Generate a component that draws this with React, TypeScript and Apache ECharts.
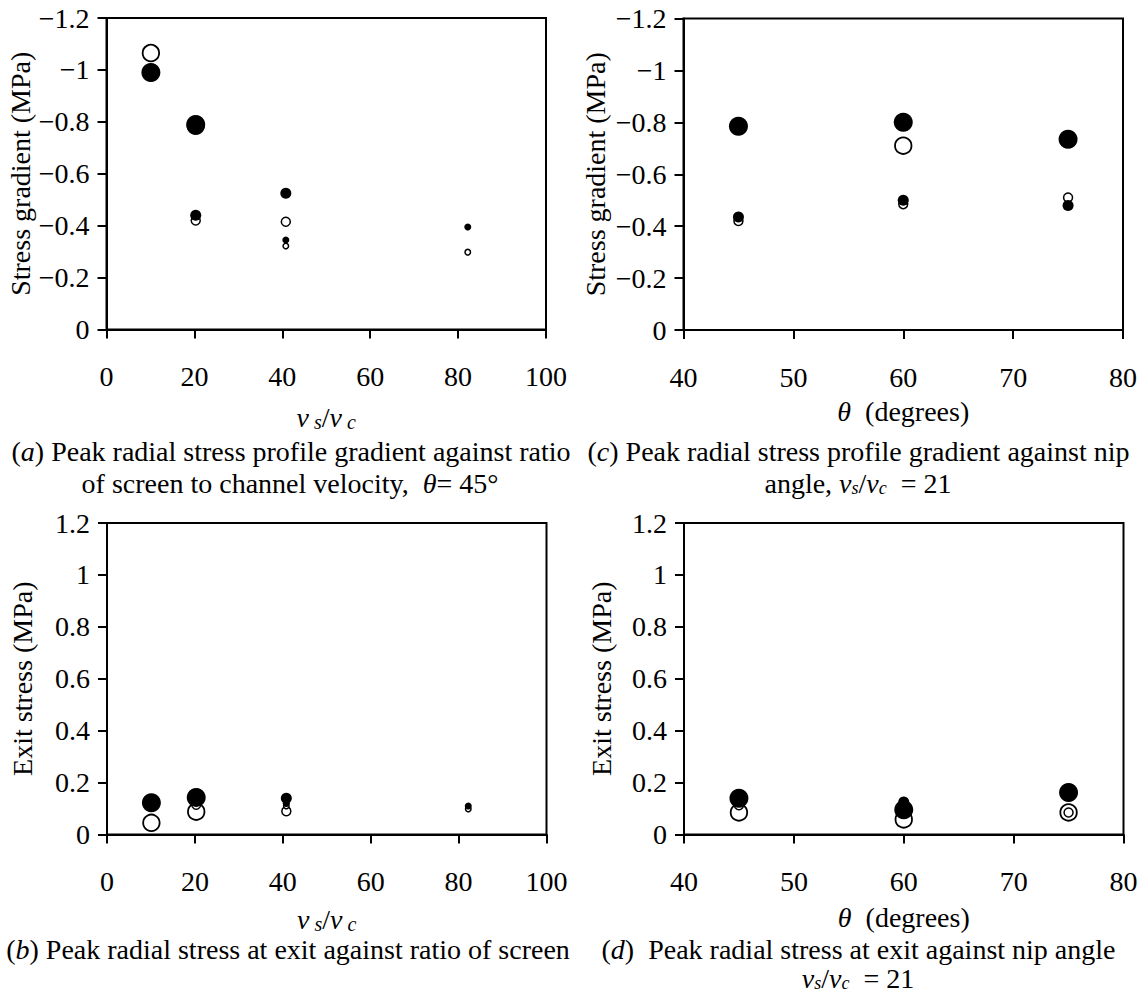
import React, { useEffect, useRef } from 'react';
import * as echarts from 'echarts';

const FONT = '"Liberation Serif", "Times New Roman", Times, serif';

// ---- axis ticks ----
const ratioTicks = { min: 0, max: 100, interval: 20 };
const angleTicks = { min: 40, max: 80, interval: 10 };
const gradTicks = { min: -1.2, max: 0, interval: 0.2 };
const exitTicks = { min: 0, max: 1.2, interval: 0.2 };

// ---- (a) stress gradient vs vs/vc, theta = 45 ----
const aLargeOpen = [[10.1, -1.065], [20.3, -0.785]];
const aMedOpen = [[20.3, -0.42], [40.8, -0.415]];
const aSmallOpen = [[40.8, -0.322], [82.2, -0.298]];
const aLargeFilled = [[10.1, -0.99], [20.3, -0.79]];
const aMedFilled = [[20.3, -0.44], [40.8, -0.525]];
const aSmallFilled = [[40.8, -0.345], [82.2, -0.395]];

// ---- (b) exit stress vs vs/vc ----
const bLargeOpen = [[10.1, 0.045], [20.3, 0.088]];
const bMedOpen = [[20.3, 0.115], [40.8, 0.09]];
const bSmallOpen = [[40.8, 0.11], [82.2, 0.098]];
const bLargeFilled = [[10.1, 0.122], [20.3, 0.143]];
const bMedFilled = [[20.3, 0.13], [40.8, 0.14]];
const bSmallFilled = [[40.8, 0.12], [82.2, 0.11]];

// ---- (c) stress gradient vs nip angle, vs/vc = 21 ----
const cLargeOpen = [[60, -0.71]];
const cMedOpen = [[45, -0.42], [60, -0.485], [75, -0.51]];
const cLargeFilled = [[45, -0.785], [60, -0.8], [75, -0.735]];
const cMedFilled = [[45, -0.435], [60, -0.5], [75, -0.48]];

// ---- (d) exit stress vs nip angle ----
const dLargeOpen = [[45, 0.085], [60, 0.058], [75, 0.085]];
const dMedOpen = [[45, 0.113], [75, 0.085]];
const dLargeFilled = [[45, 0.14], [60, 0.095], [75, 0.162]];
const dMedFilled = [[60, 0.125]];

// ---- texts ----
const yNameGrad = 'Stress gradient (MPa)';
const yNameExit = 'Exit stress (MPa)';
const xNameRatio = '{v|v}{sub| s}{sl|/}{v|v}{sub| c}';
const xNameAngle = '{t|θ}{r|  (degrees)}';
const capA1 = '({i|a}) Peak radial stress profile gradient against ratio';
const capA2 = 'of screen to channel velocity,  {i|θ}= 45°';
const capC1 = '({i|c}) Peak radial stress profile gradient against nip';
const capC2 = 'angle, {i|v}{isub|s}/{i|v}{isub|c}  = 21';
const capB1 = '({i|b}) Peak radial stress at exit against ratio of screen';
const capD1 = '({i|d})  Peak radial stress at exit against nip angle';
const capD2 = '{i|v}{isub|s}/{i|v}{isub|c}  = 21';

const FS = 28;

const nameRich = {
  v: { fontFamily: FONT, fontStyle: 'italic', fontSize: FS, lineHeight: 28, color: '#000' },
  sub: { fontFamily: FONT, fontStyle: 'italic', fontSize: 20, lineHeight: 16, verticalAlign: 'bottom', color: '#000' },
  sl: { fontFamily: FONT, fontSize: FS, lineHeight: 28, color: '#000' },
  t: { fontFamily: FONT, fontStyle: 'italic', fontSize: FS, lineHeight: 28, color: '#000' },
  r: { fontFamily: FONT, fontSize: FS, lineHeight: 28, color: '#000' },
};

const capRich = {
  i: { fontFamily: FONT, fontStyle: 'italic', fontSize: FS, fill: '#000' },
  isub: { fontFamily: FONT, fontStyle: 'italic', fontSize: 18, fill: '#000', lineHeight: 16, verticalAlign: 'bottom' },
};

const minusFmt = (v: number) => String(+v.toFixed(1)).replace('-', '\u2212');

function xAxisDef(gridIndex: number, t: any, name: string, nameGap: number) {
  return {
    type: 'value', gridIndex, min: t.min, max: t.max, interval: t.interval,
    name, nameLocation: 'middle', nameGap,
    nameTextStyle: { rich: nameRich, fontFamily: FONT, fontSize: FS, color: '#000', lineHeight: 28 },
    axisLine: { show: true, onZero: false, lineStyle: { color: '#000', width: 2 } },
    axisTick: { show: true, inside: false, length: 9, lineStyle: { color: '#000', width: 2 } },
    axisLabel: { margin: 33, color: '#000', fontFamily: FONT, fontSize: FS },
    splitLine: { show: false },
  };
}

function yAxisDef(gridIndex: number, t: any, name: string, nameGap: number, inverse: boolean) {
  return {
    type: 'value', gridIndex, min: t.min, max: t.max, interval: t.interval, inverse,
    name, nameLocation: 'middle', nameGap,
    nameTextStyle: { fontFamily: FONT, fontSize: FS, color: '#000' },
    axisLine: { show: true, onZero: false, lineStyle: { color: '#000', width: 2 } },
    axisTick: { show: true, inside: false, length: 9, lineStyle: { color: '#000', width: 2 } },
    axisLabel: { margin: 17, color: '#000', fontFamily: FONT, fontSize: FS, formatter: minusFmt },
    splitLine: { show: false },
  };
}

const SIZES = { LF: 19, LO: 16.5, MF: 11, MO: 9, SF: 7, SO: 5.5 };

function sc(idx: number, data: number[][], kind: keyof typeof SIZES, z: number) {
  const filled = kind.endsWith('F');
  return {
    type: 'scatter', xAxisIndex: idx, yAxisIndex: idx, data,
    symbol: 'circle', symbolSize: SIZES[kind], z,
    itemStyle: filled
      ? { color: '#000', opacity: 1 }
      : { color: '#fff', borderColor: '#000', borderWidth: kind === 'LO' ? 1.8 : 1.5, opacity: 1 },
    emphasis: { disabled: true }, silent: true,
  };
}

function cap(text: string, x: number, y: number) {
  return {
    type: 'text', x, y, silent: true,
    style: {
      text, rich: capRich, fontFamily: FONT, fontSize: FS, fill: '#000',
      textAlign: 'center', textVerticalAlign: 'middle', verticalAlign: 'middle',
    },
  };
}

export default function App() {
  const ref = useRef<HTMLDivElement>(null);
  useEffect(() => {
    if (!ref.current) return;
    const chart = echarts.init(ref.current, null, { renderer: 'svg' });
    const gridStyle = { show: true, borderColor: '#000', borderWidth: 2, backgroundColor: 'transparent', containLabel: false };
    chart.setOption({
      animation: false,
      backgroundColor: '#fff',
      grid: [
        { ...gridStyle, left: 106.5, top: 18, width: 439.5, height: 311.5 },
        { ...gridStyle, left: 107, top: 523, width: 439.5, height: 311.5 },
        { ...gridStyle, left: 683.5, top: 18.5, width: 439.5, height: 311.5 },
        { ...gridStyle, left: 684, top: 523, width: 439.5, height: 311.5 },
      ],
      xAxis: [
        xAxisDef(0, ratioTicks, xNameRatio, 74),
        xAxisDef(1, ratioTicks, xNameRatio, 71),
        xAxisDef(2, angleTicks, xNameAngle, 67),
        xAxisDef(3, angleTicks, xNameAngle, 69),
      ],
      yAxis: [
        yAxisDef(0, gradTicks, yNameGrad, 69, true),
        yAxisDef(1, exitTicks, yNameExit, 71, false),
        yAxisDef(2, gradTicks, yNameGrad, 74, true),
        yAxisDef(3, exitTicks, yNameExit, 69, false),
      ],
      series: [
        sc(0, aLargeOpen, 'LO', 2), sc(0, aMedOpen, 'MO', 2), sc(0, aSmallOpen, 'SO', 2),
        sc(0, aLargeFilled, 'LF', 3), sc(0, aMedFilled, 'MF', 3), sc(0, aSmallFilled, 'SF', 3),
        sc(1, bLargeOpen, 'LO', 2), sc(1, bMedOpen, 'MO', 2), sc(1, bSmallOpen, 'SO', 2),
        sc(1, bLargeFilled, 'LF', 3), sc(1, bMedFilled, 'MF', 3), sc(1, bSmallFilled, 'SF', 3),
        sc(2, cLargeOpen, 'LO', 2), sc(2, cMedOpen, 'MO', 2),
        sc(2, cLargeFilled, 'LF', 3), sc(2, cMedFilled, 'MF', 3),
        sc(3, dLargeOpen, 'LO', 2), sc(3, dMedOpen, 'MO', 2),
        sc(3, dLargeFilled, 'LF', 3), sc(3, dMedFilled, 'MF', 3),
      ],
      graphic: [
        cap(capA1, 291, 451),
        cap(capA2, 290, 483),
        cap(capC1, 858.5, 451),
        cap(capC2, 858, 483),
        cap(capB1, 288, 949),
        cap(capD1, 858.5, 949),
        cap(capD2, 858, 978),
      ],
    });
    return () => chart.dispose();
  }, []);
  return (
    <div
      ref={ref}
      style={{ position: 'absolute', left: 0, top: 0, width: 1143, height: 992, background: '#fff' }}
    />
  );
}
